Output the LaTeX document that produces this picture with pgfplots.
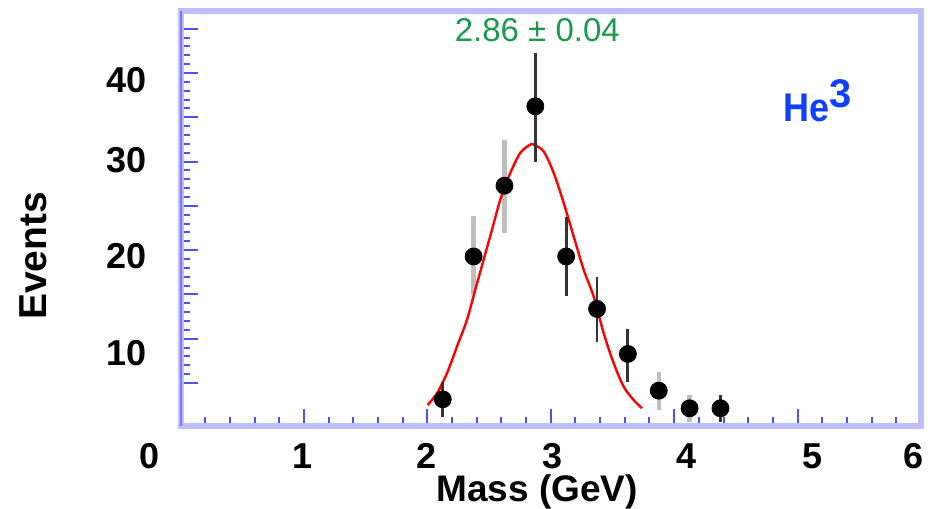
\documentclass[border=0pt]{standalone}
\usepackage{pgfplots}
\pgfplotsset{compat=1.18}
\usepackage{pgfplotstable}
\usepackage{fontspec}
\setmainfont{Liberation Sans}
\definecolor{lav}{RGB}{190,190,250}
\definecolor{tickblue}{RGB}{80,80,240}
\definecolor{leftblue}{RGB}{120,120,240}
\definecolor{grn}{RGB}{26,154,76}
\definecolor{heblue}{RGB}{16,64,255}
\definecolor{darkbar}{RGB}{51,51,51}
\definecolor{graybar}{RGB}{190,190,190}

% mass, events, error plus, error minus
\pgfplotstableread{
x y ep em
2.125 5.05 1.86 1.84
2.875 36.01 5.58 5.85
3.125 20.14 4.17 4.13
3.375 14.60 3.42 3.46
3.625 9.84 2.65 2.93
4.375 4.10 1.40 1.42
}\darkpts
\pgfplotstableread{
x y ep em
2.375 20.14 4.23 4.06
2.625 27.62 4.87 5.01
3.875 5.96 2.01 2.04
4.125 4.10 1.40 1.42
}\graypts
\pgfplotstableread{
x y
2.125 5.05
2.375 20.14
2.625 27.62
2.875 36.01
3.125 20.14
3.375 14.60
3.625 9.84
3.875 5.96
4.125 4.10
4.375 4.10
}\allpts

\begin{document}
\begin{tikzpicture}
\begin{axis}[
  scale only axis,
  width=370.25pt, height=207.25pt,
  xmin=0, xmax=6, ymin=2.28, ymax=46.08,
  clip=false,
  axis line style={draw=lav, line width=3pt},
  xtick={0,1,2,3,4,5,6},
  minor x tick num=4,
  ytick={6.77,11.45,16.13,20.81,25.49,30.17,34.85,39.53,44.21},
  minor y tick num=4,
  xticklabel=\empty, yticklabel=\empty,
  tick pos=left,
  tick align=inside,
  major tick length=8.5pt,
  minor tick length=4.5pt,
  tick style={draw=tickblue, line width=1pt},
  error bars/error mark=none,
]
\coordinate (SW) at (rel axis cs:0,0);
\coordinate (NE) at (rel axis cs:1,1);
\draw[leftblue, line width=1pt] (rel axis cs:0,0) -- (rel axis cs:0,1);

% gray error bars
\addplot[only marks, mark=none,
  error bars/.cd, y dir=both, y explicit,
  error bar style={graybar, line width=2.2pt}]
  table[x=x, y=y, y error plus=ep, y error minus=em] {\graypts};

% fit curve
\addplot[red, line width=1.2pt, smooth] coordinates {
(2.002,4.44) (2.078,5.68) (2.159,7.80) (2.240,10.61) (2.321,13.44)
(2.388,16.61) (2.456,19.79) (2.524,22.96) (2.591,26.14) (2.672,28.96)
(2.753,31.08) (2.834,31.96) (2.861,31.96) (2.942,31.25) (3.024,28.96)
(3.105,25.79) (3.186,22.25) (3.267,18.73) (3.348,15.90) (3.429,12.03)
(3.510,8.86) (3.591,6.38) (3.672,4.97) (3.740,4.10)
};

% dark error bars
\addplot[only marks, mark=none,
  error bars/.cd, y dir=both, y explicit,
  error bar style={darkbar, line width=1.4pt}]
  table[x=x, y=y, y error plus=ep, y error minus=em] {\darkpts};

% markers
\addplot[only marks, mark=*, mark size=4.25pt, black] table[x=x,y=y] {\allpts};

% tick labels
\begin{scope}[every node/.style={inner sep=0pt, font=\fontsize{18}{20}\selectfont\bfseries}]
\node[anchor=north, yshift=-8.75pt] at (axis cs:-0.255,2.28) {0};
\node[anchor=north, yshift=-8.75pt] at (axis cs:0.989,2.28) {1};
\node[anchor=north, yshift=-8.75pt] at (axis cs:1.991,2.28) {2};
\node[anchor=north, yshift=-8.75pt] at (axis cs:3.013,2.28) {3};
\node[anchor=north, yshift=-8.75pt] at (axis cs:4.10,2.28) {4};
\node[anchor=north, yshift=-8.75pt] at (axis cs:5.12,2.28) {5};
\node[anchor=north, yshift=-8.75pt] at (axis cs:5.94,2.28) {6};
\node[anchor=east, xshift=-16.75pt] at (axis cs:0,9.95) {10};
\node[anchor=east, xshift=-16.75pt] at (axis cs:0,20.23) {20};
\node[anchor=east, xshift=-16.75pt] at (axis cs:0,30.29) {30};
\node[anchor=east, xshift=-16.75pt] at (axis cs:0,38.75) {40};
\node[anchor=base, yshift=-38pt, font=\fontsize{18.5}{20}\selectfont\bfseries] at (axis cs:2.889,2.28) {Mass (GeV)};
\node[anchor=base, rotate=90, font=\fontsize{19.5}{22}\selectfont\bfseries] at ([xshift=-66.75pt]axis cs:0,20.2) {Events};
\end{scope}

\node[anchor=base, inner sep=0pt, text=grn, font=\fontsize{16.5}{18}\selectfont] at (axis cs:2.891,42.86) {2.86 ± 0.04};
\node[anchor=base west, inner sep=0pt, text=heblue, font=\fontsize{20}{22}\selectfont\bfseries] at (axis cs:4.886,34.42) {\scalebox{0.9}[1]{He}\raisebox{6.85pt}{3}};
\end{axis}
\pgfresetboundingbox
\useasboundingbox ([xshift=-90.25pt, yshift=-41.25pt]SW) rectangle ([xshift=6.5pt, yshift=5.5pt]NE);
\end{tikzpicture}
\end{document}
